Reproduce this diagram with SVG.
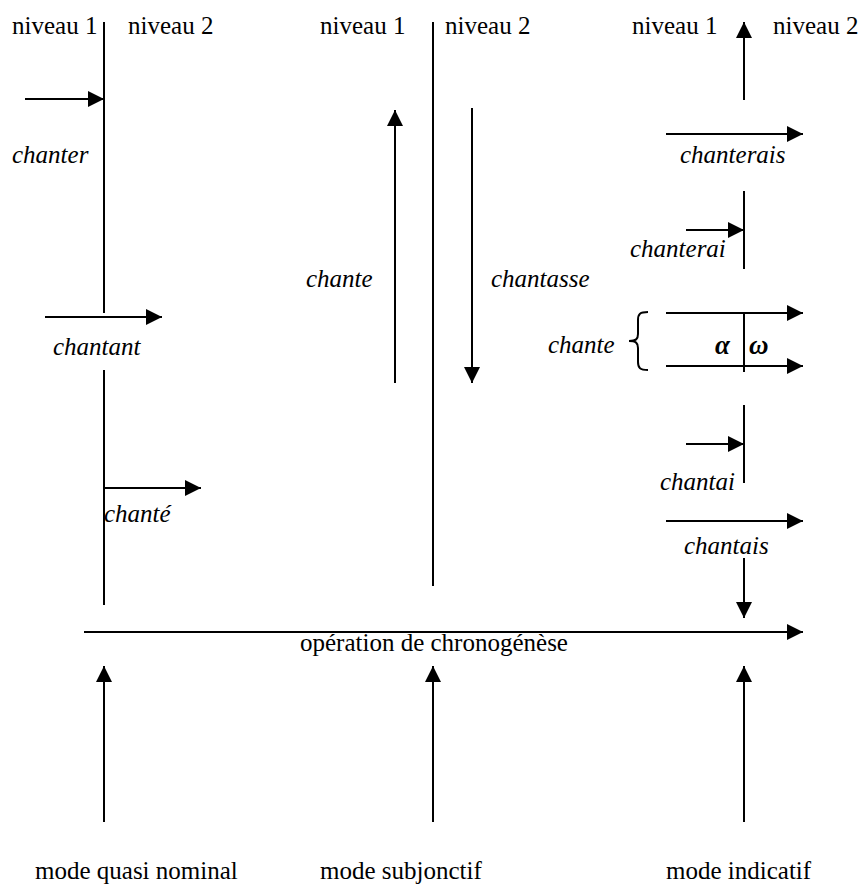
<svg xmlns="http://www.w3.org/2000/svg" width="862" height="886" viewBox="0 0 862 886">
<style>
text{font-family:"Liberation Serif","Times New Roman",serif;font-size:25px;fill:#000}
.it{font-style:italic}
.gr{font-weight:bold;font-style:italic;font-size:27px}
.ln{stroke:#000;stroke-width:2;fill:none}
.ar{stroke:#000;stroke-width:2;fill:none;marker-end:url(#ah)}
</style>
<defs>
<marker id="ah" markerUnits="userSpaceOnUse" markerWidth="17" markerHeight="16" refX="16" refY="8" orient="auto">
<path d="M0,0 L16,8 L0,16 z" fill="#000"/>
</marker>
</defs>
<rect width="862" height="886" fill="#fff"/>
<g id="connectors">
<line class="ln" x1="104" y1="22" x2="104" y2="313"/>
<line class="ln" x1="104" y1="370" x2="104" y2="605"/>
<line class="ar" x1="25" y1="99" x2="104" y2="99"/>
<line class="ar" x1="45" y1="317" x2="162" y2="317"/>
<line class="ar" x1="104" y1="488" x2="201" y2="488"/>
<line class="ln" x1="433" y1="22" x2="433" y2="586"/>
<line class="ar" x1="395" y1="383" x2="395" y2="110"/>
<line class="ar" x1="472" y1="108" x2="472" y2="383"/>
<line class="ar" x1="744" y1="100" x2="744" y2="22"/>
<line class="ar" x1="666" y1="134" x2="803" y2="134"/>
<line class="ln" x1="744" y1="191" x2="744" y2="269"/>
<line class="ar" x1="686" y1="230" x2="744" y2="230"/>
<line class="ar" x1="666" y1="313" x2="803" y2="313"/>
<line class="ar" x1="666" y1="366" x2="803" y2="366"/>
<line class="ln" x1="744" y1="313" x2="744" y2="372"/>
<path class="ln" d="M648,312 C640,312 638,314 638,320 L638,334 C638,339 636,341 629,341 C636,341 638,343 638,348 L638,362 C638,368 640,370 648,370"/>
<line class="ln" x1="744" y1="405" x2="744" y2="483"/>
<line class="ar" x1="686" y1="444" x2="744" y2="444"/>
<line class="ar" x1="666" y1="521" x2="803" y2="521"/>
<line class="ar" x1="744" y1="558" x2="744" y2="618"/>
<line class="ar" x1="84" y1="632" x2="803" y2="632"/>
<line class="ar" x1="104" y1="822" x2="104" y2="666"/>
<line class="ar" x1="433" y1="822" x2="433" y2="666"/>
<line class="ar" x1="744" y1="822" x2="744" y2="666"/>
</g>
<g id="col1">
<text x="12" y="34">niveau 1</text>
<text x="128" y="34">niveau 2</text>
<text class="it" x="12" y="163">chanter</text>
<text class="it" x="53" y="355">chantant</text>
<text class="it" x="104" y="522">chanté</text>
</g>
<g id="col2">
<text x="320" y="34">niveau 1</text>
<text x="445" y="34">niveau 2</text>
<text class="it" x="306" y="287">chante</text>
<text class="it" x="491" y="287">chantasse</text>
</g>
<g id="col3">
<text x="632" y="34">niveau 1</text>
<text x="773" y="34">niveau 2</text>
<text class="it" x="680" y="163">chanterais</text>
<text class="it" x="630" y="257">chanterai</text>
<text class="it" x="548" y="353">chante</text>
<text class="gr" x="715" y="354">α</text>
<text class="gr" x="749" y="354">ω</text>
<text class="it" x="660" y="490">chantai</text>
<text class="it" x="684" y="554">chantais</text>
</g>
<g id="axis">
<text x="434" y="651" text-anchor="middle">opération de chronogénèse</text>
</g>
<g id="modes">
<text x="35" y="879">mode quasi nominal</text>
<text x="320" y="879">mode subjonctif</text>
<text x="666" y="879">mode indicatif</text>
</g>
</svg>
